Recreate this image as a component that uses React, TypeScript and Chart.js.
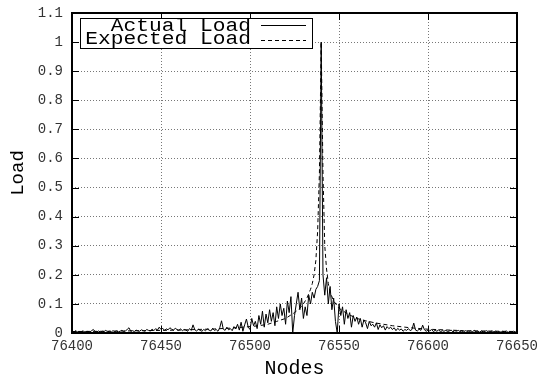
import React, { useEffect, useRef } from "react";
import { Chart, registerables } from "chart.js";

Chart.register(...registerables);

const xStart = 76400;
const actualLoad: number[] = [
  0.005, 0.003, 0.008, 0.004, 0.006, 0.002, 0.007, 0.005, 0.004, 0.006,
  0.003, 0.008, 0.012, 0.005, 0.004, 0.007, 0.003, 0.006, 0.005, 0.009,
  0.004, 0.006, 0.003, 0.008, 0.005, 0.007, 0.004, 0.006, 0.009, 0.005,
  0.007, 0.012, 0.018, 0.006, 0.008, 0.005, 0.01, 0.007, 0.006, 0.011,
  0.008, 0.006, 0.012, 0.009, 0.007, 0.013, 0.008, 0.015, 0.01, 0.02,
  0.012, 0.016, 0.009, 0.014, 0.011, 0.018, 0.013, 0.01, 0.016, 0.012,
  0.009, 0.014, 0.008, 0.012, 0.01, 0.006, 0.015, 0.009, 0.028, 0.011,
  0.007, 0.013, 0.009, 0.006, 0.012, 0.008, 0.014, 0.01, 0.007, 0.016,
  0.009, 0.012, 0.006, 0.018, 0.042, 0.013, 0.009, 0.02, 0.011, 0.015,
  0.008, 0.022, 0.014, 0.03, 0.01, 0.037, 0.006, 0.028, 0.048, 0.02,
  0.012, 0.05, 0.025, 0.04, 0.015, 0.06, 0.03, 0.075, 0.02, 0.065,
  0.035, 0.08, 0.04, 0.07, 0.025, 0.09, 0.05, 0.1, 0.06, 0.085,
  0.03, 0.11, 0.07, 0.125, 0.0, 0.06, 0.1, 0.14, 0.08, 0.12,
  0.05, 0.09, 0.06, 0.13, 0.1, 0.14, 0.12, 0.15, 0.16, 0.18,
  1.0, 0.2, 0.13, 0.19, 0.1, 0.16, 0.08, 0.12, 0.04, 0.0,
  0.1, 0.06, 0.09, 0.03, 0.08, 0.05, 0.07, 0.02, 0.06, 0.04,
  0.055, 0.03, 0.05, 0.02, 0.045, 0.035, 0.015, 0.04, 0.025, 0.03,
  0.02, 0.035, 0.012, 0.028, 0.018, 0.025, 0.01, 0.022, 0.015, 0.02,
  0.012, 0.018, 0.008, 0.016, 0.01, 0.014, 0.006, 0.012, 0.009, 0.015,
  0.008, 0.012, 0.034, 0.01, 0.007, 0.013, 0.009, 0.027, 0.011, 0.006,
  0.01, 0.007, 0.012, 0.005, 0.009, 0.006, 0.011, 0.004, 0.008, 0.006,
  0.009, 0.005, 0.007, 0.01, 0.004, 0.008, 0.006, 0.009, 0.005, 0.007,
  0.004, 0.008, 0.006, 0.003, 0.007, 0.005, 0.009, 0.004, 0.006, 0.003,
  0.007, 0.004, 0.006, 0.008, 0.003, 0.005, 0.007, 0.004, 0.006, 0.003,
  0.005, 0.003, 0.006, 0.004, 0.007, 0.002, 0.005, 0.003, 0.006, 0.004,
  0.003,
];

const expectedNodes: number[] = [
  76400, 76420, 76440, 76460, 76480, 76490, 76500, 76505, 76510, 76515,
  76520, 76525, 76528, 76530, 76532, 76534, 76535, 76536, 76537, 76538,
  76539, 76540, 76541, 76542, 76543, 76544, 76545, 76547, 76550, 76555,
  76560, 76565, 76570, 76580, 76590, 76600, 76620, 76650,
];
const expectedLoad: number[] = [
  0.005, 0.006, 0.008, 0.01, 0.014, 0.017, 0.022, 0.025, 0.03, 0.04,
  0.05, 0.07, 0.085, 0.1, 0.12, 0.15, 0.17, 0.2, 0.25, 0.35,
  0.55, 1.0, 0.55, 0.3, 0.22, 0.17, 0.14, 0.11, 0.085, 0.065,
  0.05, 0.042, 0.035, 0.025, 0.018, 0.013, 0.008, 0.005,
];

const seriesNames = ["Actual Load", "Expected Load"];
const xTitle = "Nodes";
const yTitle = "Load";

const MONO = "'Liberation Mono', 'DejaVu Sans Mono', monospace";

const zeroPad = (s: any) => {
  s.paddingTop = 0;
  s.paddingBottom = 0;
  s.paddingLeft = 0;
  s.paddingRight = 0;
};

const framePlugin = {
  id: "gnuFrame",
  afterDatasetsDraw(chart: any) {
    const { ctx, chartArea: a, scales } = chart;
    const xs = scales.x;
    const ys = scales.y;
    ctx.save();
    ctx.strokeStyle = "#000";
    ctx.lineWidth = 1;
    const tl = 7;
    ctx.beginPath();
    for (let v = 76400; v <= 76650; v += 50) {
      const px = Math.round(xs.getPixelForValue(v)) + 0.5;
      ctx.moveTo(px, a.bottom);
      ctx.lineTo(px, a.bottom - tl);
      ctx.moveTo(px, a.top);
      ctx.lineTo(px, a.top + tl);
    }
    for (let i = 0; i <= 11; i++) {
      const py = Math.round(ys.getPixelForValue(i / 10)) + 0.5;
      ctx.moveTo(a.left, py);
      ctx.lineTo(a.left + tl, py);
      ctx.moveTo(a.right, py);
      ctx.lineTo(a.right - tl, py);
    }
    ctx.stroke();
    ctx.lineWidth = 2;
    ctx.strokeRect(a.left, a.top, a.right - a.left, a.bottom - a.top);

    // legend box
    const bx = 80.5, by = 18.5, bw = 232, bh = 30;
    ctx.fillStyle = "#fff";
    ctx.fillRect(bx, by, bw, bh);
    ctx.lineWidth = 1;
    ctx.strokeRect(bx, by, bw, bh);
    const sx = 1.18;
    ctx.fillStyle = "#000";
    ctx.font = `18px ${MONO}`;
    ctx.textAlign = "right";
    ctx.textBaseline = "alphabetic";
    ctx.save();
    ctx.scale(sx, 1);
    ctx.fillText(seriesNames[0], 251 / sx, 31);
    ctx.fillText(seriesNames[1], 251 / sx, 44);
    ctx.restore();
    ctx.beginPath();
    ctx.moveTo(261, 25.5);
    ctx.lineTo(306, 25.5);
    ctx.stroke();
    ctx.setLineDash([4, 3]);
    ctx.beginPath();
    ctx.moveTo(261, 40.5);
    ctx.lineTo(306, 40.5);
    ctx.stroke();
    ctx.restore();
  },
};

export default function App() {
  const ref = useRef<HTMLCanvasElement>(null);
  useEffect(() => {
    if (!ref.current) return;
    const actualData = actualLoad.map((v, i) => ({ x: xStart + i, y: v }));
    const expectedData = expectedLoad.map((v, i) => ({ x: expectedNodes[i], y: v }));
    const chart = new Chart(ref.current, {
      type: "line",
      data: {
        datasets: [
          {
            label: seriesNames[0],
            data: actualData,
            borderColor: "#000",
            borderWidth: 1,
            pointRadius: 0,
            tension: 0,
            fill: false,
          },
          {
            label: seriesNames[1],
            data: expectedData,
            borderColor: "#000",
            borderWidth: 1,
            borderDash: [4, 3],
            pointRadius: 0,
            tension: 0,
            fill: false,
          },
        ],
      },
      options: {
        animation: false,
        responsive: false,
        maintainAspectRatio: false,
        layout: { padding: { top: 13, right: 24, left: 0, bottom: 0 } },
        plugins: { legend: { display: false }, tooltip: { enabled: false } },
        scales: {
          x: {
            type: "linear",
            min: 76400,
            max: 76650,
            afterFit: (s: any) => {
              s.height = 44;
              zeroPad(s);
            },
            ticks: {
              stepSize: 50,
              color: "#333",
              font: { family: MONO, size: 14 },
              padding: 5,
              maxRotation: 0,
              callback: (v: any) => String(v),
            },
            grid: { color: "#777", lineWidth: 1, drawTicks: false },
            border: { display: false, dash: [1, 2] },
            title: {
              display: true,
              text: xTitle,
              color: "#000",
              font: { family: MONO, size: 20, lineHeight: 1 },
              padding: { top: 0, bottom: -2 },
            },
          },
          y: {
            type: "linear",
            min: 0,
            max: 1.1,
            afterFit: (s: any) => {
              s.width = 72;
              zeroPad(s);
            },
            ticks: {
              stepSize: 0.1,
              color: "#333",
              font: { family: MONO, size: 14 },
              padding: 9,
              callback: (v: any) => String(Number(Number(v).toFixed(1))),
            },
            grid: { color: "#777", lineWidth: 1, drawTicks: false },
            border: { display: false, dash: [1, 2] },
            title: {
              display: true,
              text: yTitle,
              color: "#000",
              font: { family: MONO, size: 19, lineHeight: 1 },
              padding: { top: 8, bottom: 0 },
            },
          },
        },
      },
      plugins: [framePlugin],
    });
    return () => chart.destroy();
  }, []);
  return (
    <div style={{ position: "fixed", left: 0, top: 0, width: 541, height: 377, background: "#fff" }}>
      <canvas ref={ref} width={541} height={377} />
    </div>
  );
}
